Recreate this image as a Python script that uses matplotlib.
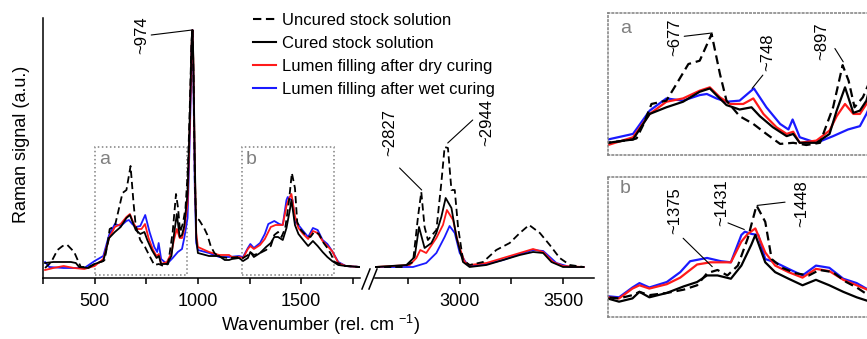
import numpy as np
import matplotlib.pyplot as plt
from matplotlib.lines import Line2D
from matplotlib.patches import Rectangle

plt.rcParams['font.family'] = ['Liberation Sans', 'DejaVu Sans']
plt.rcParams['mathtext.default'] = 'regular'

# Raman spectra (wavenumber in rel. cm-1, signal in a.u.)
uncured_wn = [260, 290, 320, 345, 368, 401, 420, 433, 470, 500, 542, 548, 559, 573, 598, 615, 635, 654,
              674, 688, 699, 721, 744, 766, 789, 811, 833, 856, 878, 894, 904, 914, 928, 940, 952, 962,
              969, 974, 979, 985, 991, 1006, 1030, 1046, 1062, 1080, 1103, 1151, 1199, 1219, 1242, 1254,
              1271, 1301, 1330, 1353, 1370, 1388, 1405, 1423, 1440, 1455, 1470, 1481, 1499, 1522, 1545,
              1563, 1586, 1609, 1627, 1644, 1662, 1716, 1785, 2590, 2725, 2774, 2798, 2814, 2830, 2846,
              2887, 2911, 2927, 2943, 2960, 2976, 2992, 3016, 3048, 3113, 3177, 3242, 3291, 3336, 3388,
              3436, 3484, 3533, 3600]
uncured_int = [10, 16, 28, 32, 33, 26, 17, 11, 11, 14, 17, 18, 30, 49, 52, 67, 85, 88,
               112, 76, 52, 38, 31, 22, 13, 14, 12, 14, 46, 84, 70, 46, 55, 70, 110, 180,
               235, 248, 200, 100, 60, 58, 50, 43, 32, 25, 21, 20, 21, 20, 23, 26,
               23, 25, 28, 32, 43, 46, 41, 50, 75, 105, 90, 56, 48, 43, 41,
               46, 44, 35, 30, 24, 16, 12, 11, 11, 11, 16, 61, 86, 51, 38,
               48, 95, 131, 130, 88, 88, 51, 18, 13, 16, 28, 35, 45, 53, 45,
               33, 20, 13, 11]

cured_wn = [260, 300, 385, 409, 425, 470, 500, 542, 570, 598, 626, 654, 671, 682, 699, 721, 741, 755,
            777, 800, 811, 822, 850, 872, 884, 898, 912, 923, 934, 950, 962, 970, 974, 978, 985, 992,
            1000, 1054, 1103, 1130, 1151, 1165, 1199, 1219, 1242, 1254, 1271, 1301, 1330, 1353, 1370,
            1388, 1411, 1429, 1446, 1453, 1470, 1487, 1510, 1534, 1557, 1580, 1604, 1627, 1650, 1680,
            1716, 1785, 2590, 2742, 2782, 2803, 2830, 2863, 2887, 2911, 2932, 2960, 2984, 3016, 3048,
            3129, 3210, 3291, 3355, 3404, 3444, 3500, 3600]
cured_int = [15, 16, 16, 15, 11, 10, 14, 17, 40, 46, 51, 60, 63, 57, 48, 44, 46, 38,
             28, 20, 22, 14, 14, 22, 43, 64, 41, 43, 52, 85, 170, 240, 248, 220, 120, 40,
             25, 22, 22, 18, 18, 19, 20, 17, 20, 26, 21, 25, 31, 35, 41,
             41, 38, 50, 69, 78, 53, 44, 38, 32, 37, 32, 26, 21, 17, 13,
             12, 11, 11, 13, 21, 51, 30, 35, 45, 61, 80, 70, 41, 16, 11,
             13, 18, 23, 26, 25, 16, 11, 11]

dry_wn = [260, 300, 350, 400, 450, 500, 542, 570, 598, 626, 654, 671, 688, 705, 727, 744, 761, 783,
          800, 811, 822, 850, 872, 884, 898, 912, 923, 934, 950, 962, 970, 974, 978, 985, 992, 1000,
          1054, 1103, 1151, 1165, 1199, 1219, 1242, 1254, 1271, 1301, 1324, 1353, 1376, 1394, 1411,
          1429, 1440, 1453, 1470, 1487, 1510, 1534, 1557, 1580, 1604, 1627, 1650, 1680, 1716, 1785,
          2590, 2758, 2790, 2809, 2838, 2887, 2919, 2938, 2968, 2992, 3024, 3048, 3129, 3210, 3291,
          3355, 3404, 3452, 3500, 3600]
dry_int = [8, 10, 12, 10, 9, 12, 19, 40, 51, 54, 61, 64, 55, 49, 49, 54, 40, 28,
           22, 24, 14, 16, 25, 38, 49, 40, 40, 49, 75, 160, 235, 248, 215, 110, 45, 31,
           26, 23, 23, 21, 21, 20, 29, 32, 29, 33, 39, 51, 53, 53, 53,
           72, 79, 84, 62, 50, 44, 39, 47, 45, 37, 32, 27, 15, 12, 11,
           11, 13, 20, 28, 25, 40, 53, 68, 58, 35, 16, 13, 15, 20, 25,
           29, 26, 16, 12, 11]

wet_wn = [260, 280, 350, 450, 500, 542, 570, 598, 626, 654, 666, 682, 699, 721, 745, 766, 789, 803,
          810, 822, 850, 878, 903, 923, 934, 950, 962, 970, 974, 978, 985, 992, 1000, 1054, 1103,
          1151, 1199, 1219, 1242, 1254, 1271, 1301, 1324, 1341, 1370, 1394, 1411, 1429, 1435, 1446,
          1458, 1470, 1487, 1510, 1534, 1557, 1580, 1604, 1627, 1650, 1680, 1716, 1785, 2590, 2774,
          2838, 2887, 2927, 2951, 2976, 3000, 3032, 3048, 3129, 3210, 3291, 3355, 3404, 3468, 3533,
          3600]
wet_int = [16, 11, 10, 10, 17, 22, 43, 54, 52, 57, 58, 54, 51, 52, 63, 46, 31, 26,
           35, 19, 14, 20, 26, 29, 40, 60, 150, 230, 248, 200, 90, 35, 28, 25, 21,
           21, 22, 21, 30, 34, 30, 35, 44, 54, 57, 54, 53, 78, 81, 79,
           78, 56, 53, 47, 41, 50, 48, 38, 34, 27, 16, 12, 11, 11, 11,
           15, 25, 41, 52, 45, 25, 15, 12, 14, 18, 24, 28, 27, 15, 11,
           11]

labels = ["Uncured stock solution", "Cured stock solution",
          "Lumen filling after dry curing", "Lumen filling after wet curing"]

W, H = 867, 339
fig = plt.figure(figsize=(W / 100, H / 100), dpi=100)


def px_box(x0, y0, x1, y1):
    # pixel box (top-left origin) -> figure fraction rect
    return [x0 / W, 1 - y1 / H, (x1 - x0) / W, (y1 - y0) / H]


ax1 = fig.add_axes(px_box(43, 18, 360, 278))
ax2 = fig.add_axes(px_box(375, 18, 594, 278))
axa = fig.add_axes(px_box(608, 13, 873, 155))
axb = fig.add_axes(px_box(608, 177, 873, 317))

dash = (0, (4, 2.2))
for ax, lw in [(ax1, 1.3), (ax2, 1.3), (axa, 1.6), (axb, 1.6)]:
    ax.plot(wet_wn, wet_int, color='#1a1aff', lw=lw)
    ax.plot(dry_wn, dry_int, color='#ff1a1a', lw=lw)
    ax.plot(cured_wn, cured_int, color='black', lw=lw)
    ax.plot(uncured_wn, uncured_int, color='black', lw=lw, linestyle=dash)

# main broken axis
ax1.set_xlim(250, 1785)
ax2.set_xlim(2590, 3650)
for ax in (ax1, ax2):
    ax.set_ylim(0, 260)
    ax.set_yticks([])
    ax.spines['top'].set_visible(False)
    ax.spines['right'].set_visible(False)
    ax.spines['bottom'].set_linewidth(1.1)
    ax.tick_params(which='both', direction='out', length=4.5, width=1.1,
                   labelsize=13, pad=6)
ax1.spines['left'].set_linewidth(1.1)
ax2.spines['left'].set_visible(False)
ax1.set_xticks([500, 1000, 1500])
ax1.set_xticks([250, 750, 1250, 1750], minor=True)
ax2.set_xticks([3000, 3500])
ax2.set_xticks([2750, 3250], minor=True)

# break marks
for x0 in (362, 369):
    fig.add_artist(Line2D([x0 / W, (x0 + 8) / W], [1 - 289 / H, 1 - 269 / H],
                          transform=fig.transFigure, color='black', lw=1.1))

# zoom boxes
for x0, letter in [(500, 'a'), (1213, 'b')]:
    ax1.add_patch(Rectangle((x0, 3), 445, 128, fill=False, ls=':', ec='#808080', lw=1.1))
    ax1.text(x0 + 20, 118, letter, color='#808080', fontsize=14, va='center', ha='left')

# insets
axa.set_xlim(500, 945)
axb.set_xlim(1200, 1655)
for ax, letter, ly in [(axa, 'a', 0.89), (axb, 'b', 0.92)]:
    ax.set_ylim(3, 131)
    ax.set_xticks([])
    ax.set_yticks([])
    for s in ax.spines.values():
        s.set_linestyle(':')
        s.set_edgecolor('#808080')
        s.set_linewidth(1.1)
    ax.text(0.045, ly, letter, transform=ax.transAxes, color='#808080',
            fontsize=14, va='center', ha='left')

line_kw = dict(arrowstyle='-', lw=0.8, color='black', shrinkA=0, shrinkB=0)


def mark(ax, text, tx, ty, p0, p1):
    ax.text(tx, ty, text, rotation=90, ha='center', va='center', fontsize=12)
    ax.annotate('', xy=p1, xytext=p0, arrowprops=line_kw, annotation_clip=False)


mark(ax1, '~974', 730, 243, (774, 243), (972, 248))
mark(ax2, '~2827', 2661, 145, (2709, 110), (2816, 88))
mark(ax2, '~2944', 3131, 156, (3063, 158), (2942, 135))
mark(axa, '~677', 612, 109, (628, 110), (675, 113))
mark(axa, '~748', 769, 96, (760, 75), (742, 63))
mark(axa, '~897', 859, 106, (881, 99), (895, 87))
mark(axb, '~1375', 1315, 100, (1329, 75), (1379, 49))
mark(axb, '~1431', 1396, 108, (1406, 89), (1434, 83))
mark(axb, '~1448', 1533, 107, (1504, 108), (1456, 105))

# legend
handles = [Line2D([], [], color='black', lw=1.5, linestyle=dash),
           Line2D([], [], color='black', lw=1.5),
           Line2D([], [], color='#ff1a1a', lw=1.5),
           Line2D([], [], color='#1a1aff', lw=1.5)]
fig.legend(handles, labels, loc='upper left', bbox_to_anchor=(253 / W, 1 - 13 / H),
           frameon=False, fontsize=12, handlelength=1.4, handletextpad=0.35,
           labelspacing=0.48, borderpad=0, borderaxespad=0)

fig.text(320 / W, 1 - 325 / H, 'Wavenumber (rel. cm $^{-1}$)', ha='center', va='center', fontsize=13)
fig.text(22 / W, 1 - 144 / H, 'Raman signal (a.u.)', rotation=90, ha='center', va='center', fontsize=13)

fig.savefig('out.png', dpi=100)
